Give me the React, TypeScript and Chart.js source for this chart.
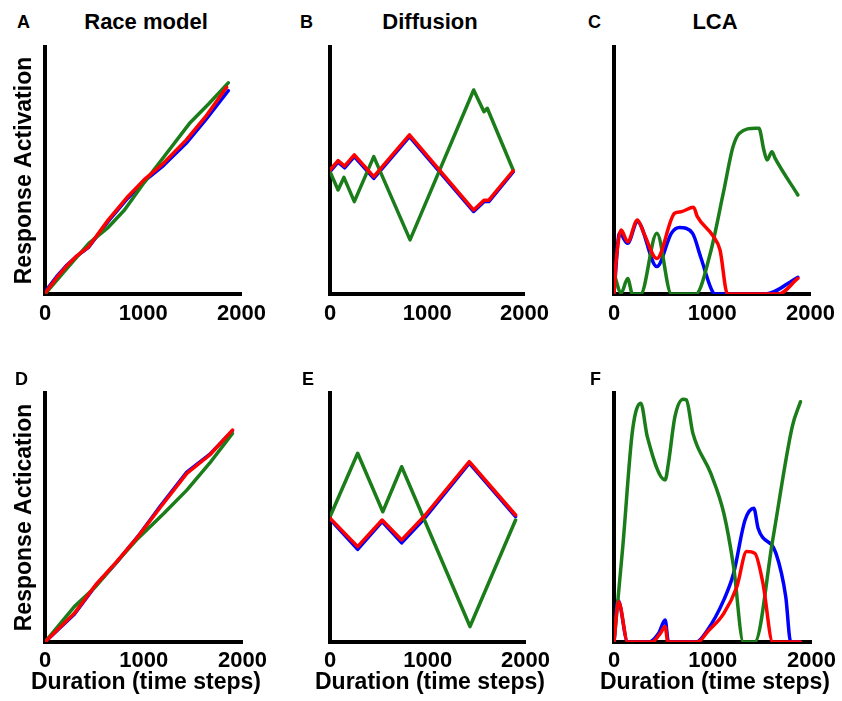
import React, { useEffect, useRef } from 'react';
import { Chart, registerables } from 'chart.js';

Chart.register(...registerables);

// ---------- data ----------
const X_MIN = 0;
const X_MAX = 2000;
const X_STEP = 1000;
const Y_MIN = 0;
const Y_MAX = 100;

// Panel A: Race model (top)
const A_red_x = [0, 115, 215, 314, 446, 644, 842, 1007, 1205, 1436, 1634, 1848];
const A_red_y = [0.3, 6.4, 11.1, 15.1, 19.2, 30, 39.4, 46.2, 52.9, 62.3, 71.8, 83.7];
const A_blue_x = [0, 115, 215, 314, 446, 644, 842, 1007, 1205, 1436, 1634, 1865];
const A_blue_y = [0.8, 6.9, 11.4, 15, 19, 29.5, 38.8, 45.6, 52, 61, 70.5, 82.3];
const A_green_x = [0, 215, 446, 644, 809, 1007, 1238, 1469, 1667, 1865];
const A_green_y = [0, 10, 20.5, 27, 34, 45, 57, 69, 77, 85.5];

// Panel B: Diffusion (top)
const B_red_x = [0, 83, 150, 250, 450, 817, 1477, 1583, 1633, 1883];
const B_red_y = [50.2, 54, 51.8, 56.3, 47.5, 64.4, 34, 38, 38, 49.9];
const B_blue_x = [0, 83, 150, 250, 450, 817, 1477, 1583, 1633, 1883];
const B_blue_y = [49.6, 53.4, 51.1, 55.6, 46.8, 63.7, 33.4, 37.4, 37.4, 49.4];
const B_green_x = [0, 83, 143, 250, 450, 823, 1477, 1583, 1617, 1883];
const B_green_y = [49.5, 42.1, 47.2, 37.4, 55.6, 21.9, 82.6, 73.8, 75.2, 50.2];

// Panel C: LCA (top)
const C_red_x = [0, 23, 73, 139, 238, 304, 436, 617, 683, 809, 848, 1013, 1079, 1155, 1673, 1871];
const C_red_y = [0, 13.8, 25.9, 21.2, 30, 24.6, 14.4, 32.7, 33.3, 35.1, 31.3, 23.2, 17.8, 0, 0, 6.3];
const C_blue_x = [0, 56, 139, 238, 436, 584, 667, 799, 881, 1013, 1030, 1541, 1871];
const C_blue_y = [0, 24.6, 20.5, 29.3, 11.1, 24.6, 26.9, 24.6, 15.1, 0.3, 0, 0, 6.8];
const C_green_x = [0, 73, 139, 188, 271, 436, 584, 832, 980, 1112, 1211, 1277, 1442, 1475, 1525, 1558, 1607, 1640, 1871];
const C_green_y = [8.4, 0.4, 6.3, 0, 0, 24.6, 0, 0, 16.5, 40.8, 59.6, 65.1, 67.1, 67.1, 58.3, 54.3, 57.6, 54.9, 40.1];

// Panel D: Race model (bottom)
const D_red_x = [0, 297, 512, 726, 941, 1172, 1436, 1667, 1898];
const D_red_y = [0, 11.5, 22.9, 32.3, 42.3, 54.3, 67.7, 75.1, 85.1];
const D_blue_x = [0, 297, 512, 726, 941, 1172, 1436, 1667, 1898];
const D_blue_y = [0, 11.2, 22.6, 32, 42.4, 54.8, 68.2, 75.3, 84.9];
const D_green_x = [0, 297, 512, 743, 941, 1205, 1436, 1667, 1898];
const D_green_y = [0, 14.2, 22.2, 32.9, 41.6, 51.7, 61, 71.8, 83.8];

// Panel E: Diffusion (bottom)
const E_red_x = [0, 283, 533, 733, 966, 1425, 1898];
const E_red_y = [49.7, 38.3, 49, 41, 50.6, 72.4, 51];
const E_blue_x = [0, 283, 533, 733, 966, 1425, 1898];
const E_blue_y = [49.3, 37.2, 48.4, 39.8, 49.6, 71.8, 50.4];
const E_green_x = [0, 283, 540, 733, 1432, 1898];
const E_green_y = [50.3, 75.8, 52.3, 70.4, 6.2, 49];

// Panel F: LCA (bottom)
const F_red_x = [0, 46, 139, 386, 469, 518, 545, 848, 947, 1112, 1244, 1343, 1426, 1508, 1607, 1888];
const F_red_y = [0, 16.2, 0, 0, 3.5, 6.2, 0, 0, 4.1, 11.5, 22.2, 36.3, 35.6, 23.6, 0, 0];
const F_blue_x = [0, 40, 139, 353, 452, 518, 551, 832, 947, 1112, 1211, 1327, 1416, 1459, 1640, 1739, 1789, 1888];
const F_blue_y = [0, 16.9, 0, 0, 3.5, 8.8, 0, 0, 4.8, 16.9, 27.6, 49, 53.7, 45.7, 35.6, 18.2, 0, 0];
const F_green_x = [0, 89, 188, 271, 337, 518, 551, 617, 700, 733, 799, 980, 1112, 1211, 1310, 1426, 1607, 1805, 1888];
const F_green_y = [0, 38.3, 85.1, 95.9, 82.5, 65.1, 71.8, 90.5, 97.5, 97.2, 83.8, 67.7, 51.7, 30.2, 0, 0, 41, 86.5, 96.5];

// ---------- styles ----------
const RED = '#ff0000';
const BLUE = '#0000ff';
const GREEN = '#1a7d1a';
const FONT = "'Liberation Sans', Arial, Helvetica, sans-serif";

type Series = { x: number[]; y: number[]; color: string };

const pts = (xs: number[], ys: number[]) => xs.map((x, i) => ({ x, y: ys[i] }));

type PanelProps = {
  plotLeft: number;
  plotTop: number;
  plotRight: number;
  plotBottom: number;
  canvasBottom: number;
  series: Series[];
  yTitle?: string;
  smooth?: boolean;
  tickPad: number;
};

const Y_AXIS_W = 45;
const PAD_TOP = 10;
const PAD_RIGHT = 26;

function Panel(p: PanelProps) {
  const ref = useRef<HTMLCanvasElement | null>(null);
  const canvasLeft = p.plotLeft - Y_AXIS_W;
  const canvasTop = p.plotTop - PAD_TOP;
  const width = p.plotRight - p.plotLeft + Y_AXIS_W + PAD_RIGHT;
  const height = p.canvasBottom - canvasTop;
  const xAxisH = p.canvasBottom - p.plotBottom;

  useEffect(() => {
    if (!ref.current) return;
    const chart = new Chart(ref.current, {
      type: 'line',
      data: {
        datasets: p.series.map((s) => ({
          data: pts(s.x, s.y),
          borderColor: s.color,
          backgroundColor: s.color,
          borderWidth: 3.5,
          pointRadius: 0,
          fill: false,
          tension: 0,
          cubicInterpolationMode: p.smooth ? 'monotone' : 'default',
          borderJoinStyle: 'round',
          borderCapStyle: 'round',
        })) as any,
      },
      options: {
        responsive: false,
        maintainAspectRatio: false,
        animation: false,
        layout: { padding: { top: PAD_TOP, right: PAD_RIGHT, left: 0, bottom: 0 } },
        plugins: {
          legend: { display: false },
          tooltip: { enabled: false },
          title: { display: false },
        },
        scales: {
          x: {
            type: 'linear',
            position: 'bottom',
            min: X_MIN,
            max: X_MAX,
            grid: { display: false, drawTicks: false },
            border: { display: true, color: '#000', width: 4 },
            ticks: {
              stepSize: X_STEP,
              color: '#000',
              padding: p.tickPad,
              maxRotation: 0,
              autoSkip: false,
              font: { family: FONT, size: 22, weight: 'bold' },
              callback: (v: any) => String(v),
            },
            afterFit: (s: any) => {
              s.height = xAxisH;
            },
          } as any,
          y: {
            type: 'linear',
            min: Y_MIN,
            max: Y_MAX,
            grid: { display: false, drawTicks: false },
            border: { display: true, color: '#000', width: 4 },
            ticks: { display: false },
            title: {
              display: !!p.yTitle,
              text: p.yTitle || '',
              color: '#000',
              font: { family: FONT, size: 23, weight: 'bold' },
              padding: { top: 11, bottom: 0 },
            },
            afterFit: (s: any) => {
              s.width = Y_AXIS_W;
            },
          } as any,
        },
      },
    });
    return () => chart.destroy();
  }, []);

  return (
    <canvas
      ref={ref}
      width={width}
      height={height}
      style={{ position: 'absolute', left: canvasLeft, top: canvasTop, width, height }}
    />
  );
}

const centeredText = (cx: number, top: number, size: number): React.CSSProperties => ({
  position: 'absolute',
  left: cx,
  top,
  transform: 'translateX(-50%)',
  fontFamily: FONT,
  fontWeight: 'bold',
  fontSize: size,
  lineHeight: `${size}px`,
  whiteSpace: 'nowrap',
  color: '#000',
});

const letterStyle = (left: number, top: number): React.CSSProperties => ({
  position: 'absolute',
  left,
  top,
  fontFamily: FONT,
  fontWeight: 'bold',
  fontSize: 18,
  lineHeight: '18px',
  color: '#000',
});

const X_TITLE = 'Duration (time steps)';

export default function App() {
  const TOP = { plotTop: 47, plotBottom: 294, canvasBottom: 340, tickPad: 7 };
  const BOT = { plotTop: 393, plotBottom: 642, canvasBottom: 701, tickPad: 6 };
  const COLS = [
    { plotLeft: 45, plotRight: 247 },
    { plotLeft: 330, plotRight: 530 },
    { plotLeft: 614, plotRight: 816 },
  ];
  const series = (rx: number[], ry: number[], bx: number[], by: number[], gx: number[], gy: number[]): Series[] => [
    { x: rx, y: ry, color: RED },
    { x: gx, y: gy, color: GREEN },
    { x: bx, y: by, color: BLUE },
  ];

  return (
    <div
      style={{
        position: 'fixed',
        left: 0,
        top: 0,
        width: 842,
        height: 701,
        overflow: 'hidden',
        background: '#fff',
      }}
    >
      <Panel {...TOP} {...COLS[0]} yTitle="Response Activation"
        series={series(A_red_x, A_red_y, A_blue_x, A_blue_y, A_green_x, A_green_y)} />
      <Panel {...TOP} {...COLS[1]}
        series={series(B_red_x, B_red_y, B_blue_x, B_blue_y, B_green_x, B_green_y)} />
      <Panel {...TOP} {...COLS[2]} smooth
        series={series(C_red_x, C_red_y, C_blue_x, C_blue_y, C_green_x, C_green_y)} />

      <Panel {...BOT} {...COLS[0]} yTitle="Response Actication"
        series={series(D_red_x, D_red_y, D_blue_x, D_blue_y, D_green_x, D_green_y)} />
      <Panel {...BOT} {...COLS[1]}
        series={series(E_red_x, E_red_y, E_blue_x, E_blue_y, E_green_x, E_green_y)} />
      <Panel {...BOT} {...COLS[2]} smooth
        series={series(F_red_x, F_red_y, F_blue_x, F_blue_y, F_green_x, F_green_y)} />

      <div style={letterStyle(17, 13)}>A</div>
      <div style={letterStyle(300, 13)}>B</div>
      <div style={letterStyle(588, 13)}>C</div>
      <div style={letterStyle(15, 370)}>D</div>
      <div style={letterStyle(302, 370)}>E</div>
      <div style={letterStyle(590, 370)}>F</div>
      <div style={centeredText(146, 11, 22)}>Race model</div>
      <div style={centeredText(430, 11, 22)}>Diffusion</div>
      <div style={centeredText(715, 11, 22)}>LCA</div>
      <div style={centeredText(146, 670, 23)}>{X_TITLE}</div>
      <div style={centeredText(430, 670, 23)}>{X_TITLE}</div>
      <div style={centeredText(715, 670, 23)}>{X_TITLE}</div>
    </div>
  );
}
